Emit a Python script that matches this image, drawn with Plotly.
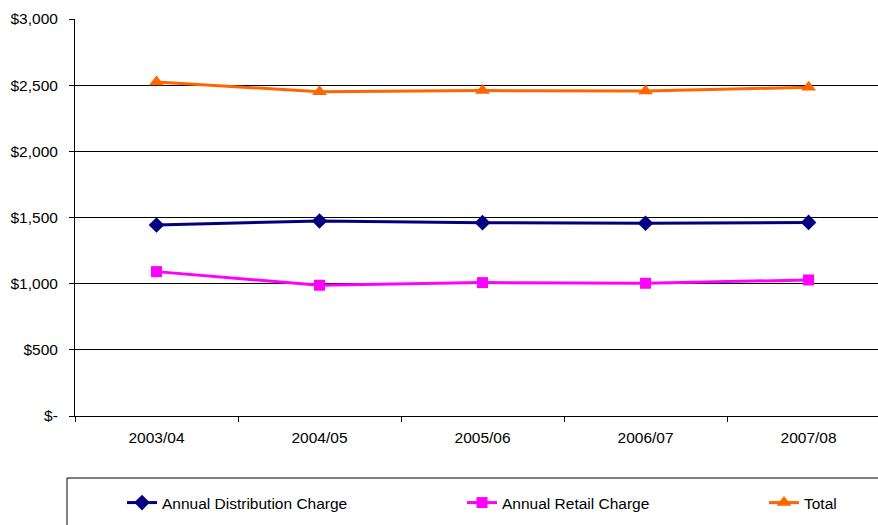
import plotly.graph_objects as go

years = ["2003/04", "2004/05", "2005/06", "2006/07", "2007/08"]
distribution = [1443, 1474, 1461, 1456, 1463]
retail = [1091, 988, 1008, 1003, 1028]
total = [2524, 2451, 2459, 2455, 2484]

y_ticks = [0, 500, 1000, 1500, 2000, 2500, 3000]
y_ticktext = ["$-", "$500", "$1,000", "$1,500", "$2,000", "$2,500", "$3,000"]

W, H = 878, 525
L, R, T, B = 75, 0, 19, 109
pw, ph = W - L - R, H - T - B

def px_x(p):
    return (p - L) / pw

def px_y(p):
    return (H - B - p) / ph

font = dict(family="Liberation Sans, Arial, sans-serif", size=15.5, color="black")

fig = go.Figure()
fig.add_trace(go.Scatter(x=years, y=distribution, name="Annual Distribution Charge",
                         mode="lines+markers", line=dict(color="#000080", width=3),
                         marker=dict(symbol="diamond", size=12, color="#000080"),
                         legend="legend"))
fig.add_trace(go.Scatter(x=years, y=retail, name="Annual Retail Charge",
                         mode="lines+markers", line=dict(color="#FF00FF", width=3),
                         marker=dict(symbol="square", size=11, color="#FF00FF"),
                         legend="legend2"))
fig.add_trace(go.Scatter(x=years, y=total, name="Total",
                         mode="lines+markers", line=dict(color="#FF6600", width=3),
                         marker=dict(symbol="triangle-up", size=13, color="#FF6600"),
                         legend="legend3"))

leg_common = dict(orientation="h", yanchor="middle", xanchor="left", font=font,
                  bgcolor="rgba(0,0,0,0)", borderwidth=0)
ly = px_y(503)

fig.update_layout(
    width=W, height=H,
    margin=dict(l=L, r=R, t=T, b=B, pad=0),
    paper_bgcolor="white", plot_bgcolor="white",
    font=font,
    legend=dict(x=px_x(122), y=ly, **leg_common),
    legend2=dict(x=px_x(462), y=ly, **leg_common),
    legend3=dict(x=px_x(764), y=ly, **leg_common),
    xaxis=dict(type="category", range=[-0.5, 4.426], showgrid=False,
               showline=True, linecolor="black", linewidth=1,
               ticks="outside", tickson="boundaries", ticklen=5, tickcolor="black",
               ticklabelstandoff=7, tickfont=font, zeroline=False),
    yaxis=dict(range=[0, 3000], tickvals=y_ticks, ticktext=y_ticktext,
               showgrid=True, gridcolor="black", gridwidth=1,
               showline=True, linecolor="black", linewidth=1,
               ticks="outside", ticklen=5, tickcolor="black",
               ticklabelstandoff=8, tickfont=font, zeroline=False),
    shapes=[dict(type="rect", xref="paper", yref="paper",
                 x0=px_x(67), x1=px_x(900), y0=px_y(478), y1=px_y(540),
                 line=dict(color="black", width=1), fillcolor="rgba(0,0,0,0)")],
    showlegend=True,
)

fig.write_html("out.html")
